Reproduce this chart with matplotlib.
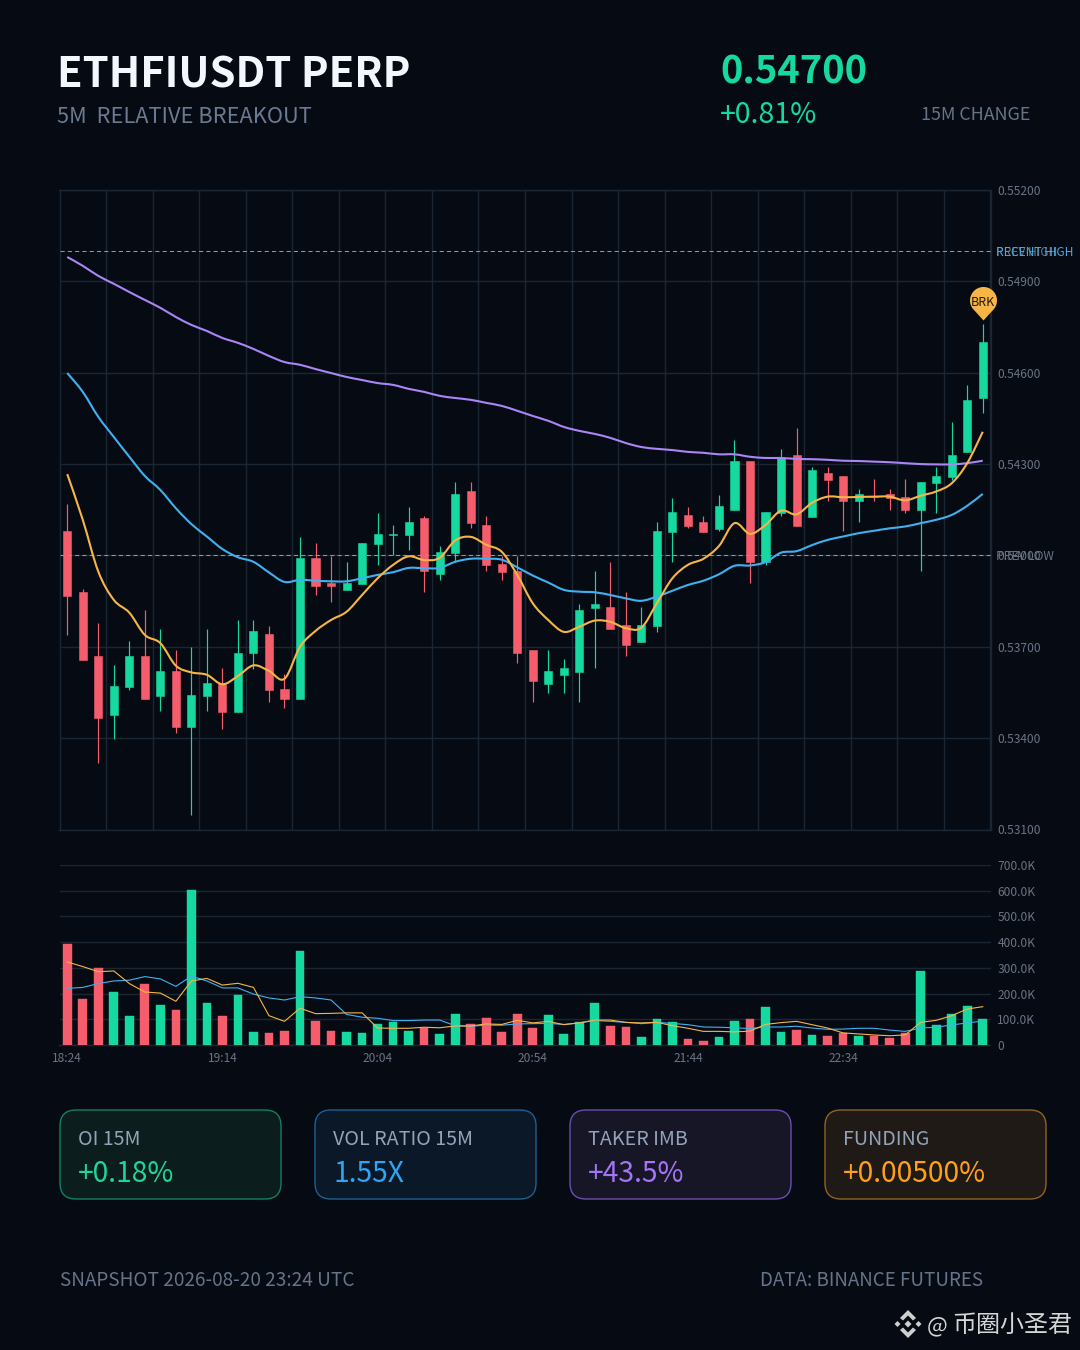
import numpy as np
import matplotlib
matplotlib.use('Agg')
import matplotlib.pyplot as plt
from matplotlib.patches import FancyBboxPatch, Polygon, PathPatch
from matplotlib.path import Path

plt.rcParams['font.family'] = ['Noto Sans CJK SC', 'DejaVu Sans']

BG = '#060b13'
GRID = '#1b2635'
GREEN = '#16d9a0'
RED = '#f65d6c'
BLUE = '#3fb0f0'
ORANGE = '#f6b545'
PURPLE = '#a985f5'
TICK = '#6a7484'

opens = [0.54081, 0.53880, 0.53670, 0.53476, 0.53567, 0.53670, 0.53538, 0.53621, 0.53438, 0.53538,
         0.53577, 0.53487, 0.53678, 0.53741, 0.53562, 0.53528, 0.53991, 0.53909, 0.53888, 0.53907,
         0.54038, 0.54066, 0.54067, 0.54122, 0.53938, 0.54008, 0.54212, 0.54101, 0.53971, 0.53950,
         0.53691, 0.53577, 0.53608, 0.53617, 0.53828, 0.53831, 0.53771, 0.53717, 0.53768, 0.54078,
         0.54132, 0.54111, 0.54087, 0.54148, 0.54311, 0.53979, 0.54139, 0.54331, 0.54127, 0.54271,
         0.54261, 0.54178, 0.54193, 0.54202, 0.54192, 0.54148, 0.54238, 0.54258, 0.54338, 0.54518]
closes = [0.53868, 0.53658, 0.53467, 0.53571, 0.53670, 0.53528, 0.53621, 0.53438, 0.53541, 0.53581,
          0.53487, 0.53681, 0.53751, 0.53558, 0.53528, 0.53991, 0.53898, 0.53898, 0.53909, 0.54041,
          0.54071, 0.54070, 0.54111, 0.53948, 0.54011, 0.54202, 0.54108, 0.53968, 0.53947, 0.53678,
          0.53588, 0.53621, 0.53631, 0.53821, 0.53841, 0.53758, 0.53707, 0.53771, 0.54081, 0.54142,
          0.54097, 0.54078, 0.54162, 0.54311, 0.53979, 0.54142, 0.54321, 0.54098, 0.54281, 0.54249,
          0.54178, 0.54202, 0.54191, 0.54190, 0.54148, 0.54241, 0.54261, 0.54331, 0.54511, 0.54700]
highs = [0.54169, 0.53890, 0.53778, 0.53639, 0.53719, 0.53820, 0.53759, 0.53689, 0.53700, 0.53759,
         0.53630, 0.53788, 0.53788, 0.53768, 0.53610, 0.54060, 0.54040, 0.53999, 0.53980, 0.54041,
         0.54140, 0.54100, 0.54159, 0.54130, 0.54030, 0.54240, 0.54240, 0.54130, 0.53999, 0.53999,
         0.53691, 0.53690, 0.53660, 0.53840, 0.53949, 0.53979, 0.53879, 0.53830, 0.54109, 0.54189,
         0.54159, 0.54130, 0.54199, 0.54379, 0.54311, 0.54142, 0.54350, 0.54420, 0.54290, 0.54290,
         0.54261, 0.54219, 0.54250, 0.54219, 0.54250, 0.54241, 0.54290, 0.54439, 0.54560, 0.54759]
lows = [0.53739, 0.53658, 0.53320, 0.53398, 0.53559, 0.53528, 0.53489, 0.53418, 0.53149, 0.53489,
        0.53429, 0.53487, 0.53628, 0.53520, 0.53500, 0.53528, 0.53869, 0.53848, 0.53888, 0.53907,
        0.53969, 0.54001, 0.54019, 0.53879, 0.53920, 0.53983, 0.54089, 0.53949, 0.53920, 0.53648,
        0.53520, 0.53549, 0.53549, 0.53520, 0.53630, 0.53758, 0.53669, 0.53717, 0.53750, 0.53980,
        0.54089, 0.54078, 0.54080, 0.54148, 0.53911, 0.53970, 0.54131, 0.54098, 0.54127, 0.54180,
        0.54080, 0.54110, 0.54180, 0.54149, 0.54140, 0.53950, 0.54140, 0.54248, 0.54338, 0.54469]

ma_fast = [0.54267, 0.54117, 0.53947, 0.53854, 0.53812, 0.53739, 0.53712, 0.53638, 0.53616, 0.53608,
           0.53577, 0.53604, 0.53639, 0.53621, 0.53595, 0.53700, 0.53752, 0.53788, 0.53815, 0.53870,
           0.53925, 0.53969, 0.53997, 0.53985, 0.53992, 0.54049, 0.54061, 0.54035, 0.54012, 0.53936,
           0.53843, 0.53788, 0.53749, 0.53766, 0.53786, 0.53782, 0.53761, 0.53763, 0.53843, 0.53925,
           0.53969, 0.53989, 0.54031, 0.54106, 0.54071, 0.54100, 0.54147, 0.54135, 0.54173, 0.54193,
           0.54191, 0.54192, 0.54193, 0.54193, 0.54181, 0.54196, 0.54210, 0.54237, 0.54303, 0.54406]
ma_mid = [0.54599, 0.54537, 0.54455, 0.54389, 0.54324, 0.54261, 0.54215, 0.54155, 0.54103, 0.54062,
          0.54021, 0.53994, 0.53979, 0.53944, 0.53913, 0.53920, 0.53917, 0.53915, 0.53915, 0.53925,
          0.53936, 0.53945, 0.53959, 0.53958, 0.53959, 0.53979, 0.53989, 0.53989, 0.53986, 0.53961,
          0.53934, 0.53911, 0.53887, 0.53881, 0.53879, 0.53870, 0.53859, 0.53851, 0.53865, 0.53884,
          0.53903, 0.53917, 0.53938, 0.53966, 0.53967, 0.53978, 0.54009, 0.54014, 0.54034, 0.54051,
          0.54062, 0.54073, 0.54081, 0.54089, 0.54095, 0.54106, 0.54117, 0.54133, 0.54163, 0.54202]
ma_slow = [0.54980, 0.54951, 0.54918, 0.54892, 0.54865, 0.54839, 0.54813, 0.54783, 0.54757, 0.54737,
           0.54714, 0.54698, 0.54678, 0.54655, 0.54635, 0.54626, 0.54612, 0.54599, 0.54586, 0.54576,
           0.54566, 0.54560, 0.54547, 0.54537, 0.54524, 0.54517, 0.54511, 0.54501, 0.54491, 0.54475,
           0.54458, 0.54442, 0.54422, 0.54409, 0.54399, 0.54386, 0.54369, 0.54356, 0.54350, 0.54346,
           0.54340, 0.54337, 0.54332, 0.54332, 0.54324, 0.54320, 0.54320, 0.54317, 0.54316, 0.54314,
           0.54311, 0.54310, 0.54308, 0.54306, 0.54303, 0.54300, 0.54299, 0.54299, 0.54303, 0.54311]

volumes = [394, 179, 300, 206, 112, 237, 156, 135, 602, 162,
           113, 195, 49, 48, 54, 366, 95, 54, 52, 48,
           82, 89, 53, 66, 42, 121, 80, 105, 52, 121,
           67, 118, 42, 89, 162, 74, 71, 30, 101, 89,
           22, 16, 31, 93, 101, 149, 52, 58, 40, 36,
           45, 36, 36, 27, 45, 289, 77, 121, 153, 101]
vol_ma_fast = [323, 305, 285, 288, 239, 206, 202, 170, 249, 259,
               233, 240, 224, 114, 92, 143, 122, 123, 125, 125,
               66, 65, 65, 69, 67, 74, 74, 82, 80, 96,
               86, 92, 79, 86, 97, 97, 88, 86, 88, 75,
               65, 53, 53, 51, 54, 80, 87, 92, 79, 66,
               47, 43, 39, 36, 39, 88, 96, 114, 140, 149]
vol_ma_slow = [220, 224, 239, 249, 252, 266, 257, 228, 268, 249,
               222, 222, 198, 183, 175, 188, 183, 175, 119, 108,
               104, 95, 95, 97, 97, 75, 73, 77, 77, 82,
               83, 84, 80, 86, 95, 92, 88, 83, 88, 84,
               79, 70, 69, 67, 64, 70, 70, 73, 66, 61,
               62, 65, 65, 58, 53, 66, 69, 78, 86, 93]

price_ticks = [0.531, 0.534, 0.537, 0.540, 0.543, 0.546, 0.549, 0.552]
vol_ticks = [0, 100, 200, 300, 400, 500, 600, 700]
time_labels = ['18:24', '19:14', '20:04', '20:54', '21:44', '22:34']
recent_high = 0.55000
prev_low = 0.54000

cards = [('OI 15M', '+0.18%', 60, '#0b1d1c', '#14805f', '#1fd69a'),
         ('VOL RATIO 15M', '1.55X', 315, '#0a1828', '#1f5f92', '#2ea6f5'),
         ('TAKER IMB', '+43.5%', 570, '#161627', '#6a4fb0', '#a374f5'),
         ('FUNDING', '+0.00500%', 825, '#1f1a16', '#8f6420', '#ff9f1c')]


def px(size):
    # font size given in pixels of the 100 dpi figure
    return size * 0.72


def smooth_line(ax, values, color, lw, t=0.17):
    # bezier through the read values, the source chart has smoothed lines
    x = np.arange(len(values), dtype=float)
    y = np.array(values)
    verts = [(x[0], y[0])]
    codes = [Path.MOVETO]
    for i in range(len(x) - 1):
        a = max(i - 1, 0)
        b = min(i + 2, len(x) - 1)
        verts.append((x[i] + (x[i + 1] - x[a]) * t, y[i] + (y[i + 1] - y[a]) * t))
        verts.append((x[i + 1] - (x[b] - x[i]) * t, y[i + 1] - (y[b] - y[i]) * t))
        verts.append((x[i + 1], y[i + 1]))
        codes += [Path.CURVE4] * 3
    ax.add_patch(PathPatch(Path(verts, codes), fill=False, edgecolor=color, lw=lw, zorder=4))


W, H = 1080, 1350
fig = plt.figure(figsize=(W / 100, H / 100), dpi=100, facecolor=BG)


def make_axes(left, top, right, bottom):
    return fig.add_axes([left / W, 1 - bottom / H, (right - left) / W, (bottom - top) / H])


# page layer in pixel coordinates, for the header, cards and footer
page = fig.add_axes([0, 0, 1, 1])
page.set_xlim(0, W)
page.set_ylim(H, 0)
page.axis('off')

page.text(57, 87.8, 'ETHFIUSDT PERP', color='#f4f7fd', fontsize=px(41.8), fontweight='bold')
page.text(57, 123, '5M  RELATIVE BREAKOUT', color='#6a7a90', fontsize=px(21.8))
page.text(720, 84, '0.54700', color=GREEN, fontsize=px(38), fontweight='bold')
page.text(720, 122.8, '+0.81%', color=GREEN, fontsize=px(28.5))
page.text(1030, 120.5, '15M CHANGE', color='#667489', fontsize=px(17.9), ha='right')

for label, value, left, fill, edge, color in cards:
    page.add_patch(FancyBboxPatch((left + 16, 1126), 221 - 32, 89 - 32,
                                  boxstyle='round,pad=16,rounding_size=16',
                                  fc=fill, ec=edge, lw=1.0))
    page.text(left + 18, 1144.7, label, color='#94a3b8', fontsize=px(19.7))
    page.text(left + 18, 1181.5, value, color=color, fontsize=px(28.2))

page.text(60, 1285.7, 'SNAPSHOT 2026-08-20 23:24 UTC', color='#667489', fontsize=px(19))
page.text(983, 1285.7, 'DATA: BINANCE FUTURES', color='#667489', fontsize=px(18.8), ha='right')

# watermark logo
logo = '#cfcfcf'
cx, cy = 908, 1324
page.add_patch(Polygon([(cx - 3.5, cy), (cx, cy - 3.5), (cx + 3.5, cy), (cx, cy + 3.5)], fc=logo, ec='none'))
page.add_patch(Polygon([(cx - 13.5, cy), (cx - 10.5, cy - 3), (cx - 7.5, cy), (cx - 10.5, cy + 3)], fc=logo, ec='none'))
page.add_patch(Polygon([(cx + 13.5, cy), (cx + 10.5, cy - 3), (cx + 7.5, cy), (cx + 10.5, cy + 3)], fc=logo, ec='none'))
page.add_patch(Polygon([(cx - 8, cy - 6), (cx, cy - 14), (cx + 8, cy - 6), (cx + 5, cy - 3.5), (cx, cy - 8.5), (cx - 5, cy - 3.5)], fc=logo, ec='none'))
page.add_patch(Polygon([(cx - 8, cy + 6), (cx, cy + 14), (cx + 8, cy + 6), (cx + 5, cy + 3.5), (cx, cy + 8.5), (cx - 5, cy + 3.5)], fc=logo, ec='none'))
page.text(927, 1332, '@', color='#d6d6d6', fontsize=px(22))
page.text(1072, 1332, '币圈小圣君', color='#d6d6d6', fontsize=px(24), ha='right')

# price panel
ax = make_axes(59.5, 190, 990.5, 829.5)
ax.set_facecolor('none')
x = np.arange(len(opens))
up = np.array(closes) >= np.array(opens)
colors = [GREEN if u else RED for u in up]

ax.vlines(x, lows, highs, colors=colors, lw=0.85, zorder=2)
ax.bar(x, np.abs(np.array(closes) - np.array(opens)), bottom=np.minimum(opens, closes),
       width=0.52, color=colors, edgecolor=colors, lw=0.4, zorder=3)
smooth_line(ax, ma_slow, PURPLE, 1.5)
smooth_line(ax, ma_mid, BLUE, 1.5)
smooth_line(ax, ma_fast, ORANGE, 1.5)

for level in (recent_high, prev_low):
    ax.axhline(level, color='#8d99a8', lw=0.75, ls=(0, (4, 3)), zorder=3)

ax.set_xlim(-0.5, 59.5)
ax.set_ylim(price_ticks[0], price_ticks[-1])
ax.set_yticks(price_ticks)
ax.set_yticklabels(['%.5f' % p for p in price_ticks], va='center_baseline')
ax.set_xticks(np.arange(-0.5, 60, 3))
ax.tick_params(axis='x', length=0, labelbottom=False)
ax.tick_params(axis='y', length=0, labelleft=False, labelright=True, pad=5,
               labelcolor=TICK, labelsize=px(12))
ax.grid(True, color=GRID, lw=1.0, zorder=0)
ax.set_axisbelow(True)
for s in ax.spines.values():
    s.set_color(GRID)
    s.set_linewidth(1.0)

# the level labels sit on top of each other in the source too
tr = ax.get_yaxis_transform()
ax.text(1.0054, recent_high, 'PREV HIGH', color=TICK, fontsize=px(12), va='center_baseline', transform=tr)
ax.text(1.0054, recent_high, 'RECENT HIGH', color='#4aa8e0', fontsize=px(12), va='center_baseline', transform=tr)
ax.text(1.0054, prev_low, 'PREV LOW', color=TICK, fontsize=px(12), va='center_baseline', transform=tr)

# breakout pin on the last candle
theta = np.radians(np.linspace(-48, 228, 50))
pin = np.column_stack([13.5 * np.cos(theta), 24 + 13.5 * np.sin(theta)])
pin = np.vstack([pin, [0, 4], pin[0]])
ax.plot(x[-1], highs[-1], marker=Path(pin), ms=px(2 * 37.5), mfc=ORANGE, mec='none',
        clip_on=False, zorder=6)
ax.annotate('BRK', (x[-1], highs[-1]), xytext=(0, px(22)), textcoords='offset points',
            ha='center', va='center', color='#221d12', fontsize=px(12.5), zorder=7,
            annotation_clip=False)

# volume panel
vax = make_axes(59.5, 865, 990.5, 1045)
vax.set_facecolor('none')
vax.bar(x, volumes, width=0.56, color=colors, edgecolor=colors, lw=0.3, zorder=3)
vax.plot(x, vol_ma_slow, color=BLUE, lw=0.8, zorder=4)
vax.plot(x, vol_ma_fast, color=ORANGE, lw=0.8, zorder=4)
vax.set_xlim(-0.5, 59.5)
vax.set_ylim(0, 700)
vax.set_yticks(vol_ticks)
vax.set_yticklabels(['0' if v == 0 else '%.1fK' % v for v in vol_ticks], va='center_baseline')
vax.set_xticks(np.arange(0, 60, 10))
vax.set_xticklabels(time_labels)
vax.tick_params(axis='x', length=0, pad=5, labelcolor=TICK, labelsize=px(12))
vax.tick_params(axis='y', length=0, labelleft=False, labelright=True, pad=5,
                labelcolor=TICK, labelsize=px(12))
vax.grid(True, axis='y', color=GRID, lw=1.0, zorder=0)
vax.set_axisbelow(True)
for name, s in vax.spines.items():
    s.set_visible(name == 'bottom')
    s.set_color(GRID)
    s.set_linewidth(1.0)

fig.savefig('out.png', dpi=100, facecolor=BG)
